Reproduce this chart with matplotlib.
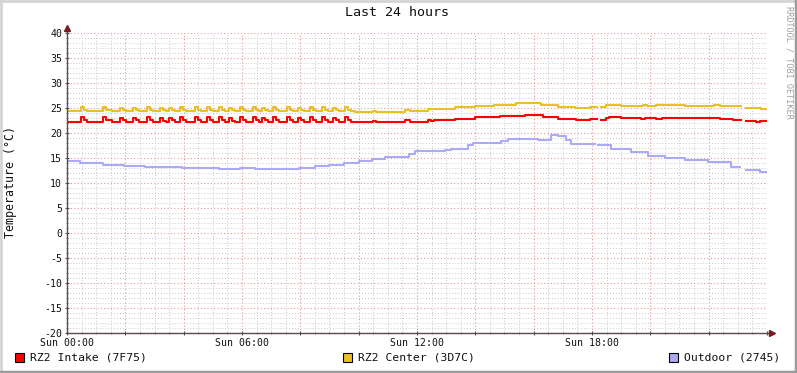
import numpy as np
import matplotlib
matplotlib.use("Agg")
import matplotlib.pyplot as plt
from matplotlib.patches import Rectangle
from matplotlib.ticker import MultipleLocator

# ---- data (hours since Sun 00:00, degrees C) ----
# shared sample times for the two RZ2 sensors; NaN marks missing data
rz2_hours = [
    0.00,
    0.48, 0.58, 0.68,
    1.23, 1.33, 1.54,
    1.82, 1.92, 2.02,
    2.26, 2.36, 2.46,
    2.74, 2.84, 2.94,
    3.19, 3.29, 3.39,
    3.50, 3.60, 3.70,
    3.87, 3.97, 4.07,
    4.39, 4.49, 4.59,
    4.80, 4.90, 5.00,
    5.21, 5.31, 5.41,
    5.55, 5.65, 5.75,
    5.93, 6.03, 6.13,
    6.38, 6.48, 6.58,
    6.69, 6.79, 6.89,
    7.06, 7.16, 7.26,
    7.54, 7.64, 7.74,
    7.92, 8.02, 8.12,
    8.33, 8.43, 8.53,
    8.74, 8.84, 8.94,
    9.12, 9.22, 9.32,
    9.53, 9.63, 9.73,
    9.87, 10.49, 10.60, 11.59, 11.75, 12.37, 12.47, 12.58, 13.30, 14.00,
    14.63, 14.83, 15.40, 15.69, 16.25, 16.32, 16.83, 17.42, 17.45, 17.94,
    18.17, 18.31, 18.48, 18.59, 18.76, 19.00, 19.69, 19.76, 19.83, 19.90,
    20.20, 20.40, 21.20, 21.40, 22.20, 22.27, 22.40, 22.84, 23.11, 23.28,
    23.62, 23.75, 23.80, 23.97,
]
intake = [
    22.3,
    23.2, 22.7, 22.3,
    23.2, 22.7, 22.3,
    23.1, 22.6, 22.3,
    23.0, 22.6, 22.3,
    23.2, 22.7, 22.3,
    23.1, 22.5, 22.3,
    23.1, 22.6, 22.3,
    23.2, 22.7, 22.3,
    23.2, 22.7, 22.3,
    23.2, 22.6, 22.3,
    23.2, 22.6, 22.3,
    23.1, 22.5, 22.3,
    23.2, 22.6, 22.3,
    23.2, 22.7, 22.3,
    23.1, 22.6, 22.3,
    23.2, 22.7, 22.3,
    23.2, 22.6, 22.3,
    23.1, 22.6, 22.3,
    23.2, 22.7, 22.3,
    23.2, 22.6, 22.3,
    23.1, 22.6, 22.3,
    23.2, 22.7, 22.3,
    22.2, 22.4, 22.2, 22.6, 22.3, 22.7, 22.5, 22.6, 22.9, 23.3,
    23.2, 23.4, 23.4, 23.7, 23.7, 23.3, 22.9, 22.9, 22.6, 22.9,
    np.nan, 22.7, 23.1, 23.3, 23.3, 23.0, 22.8, 22.8, 23.0, 23.0,
    22.8, 23.0, 23.1, 23.0, 23.0, 23.1, 22.8, 22.6, np.nan, 22.5,
    22.3, 22.5, 22.5, 22.5,
]
center = [
    24.4,
    25.2, 24.7, 24.4,
    25.2, 24.7, 24.4,
    25.1, 24.7, 24.4,
    25.0, 24.6, 24.4,
    25.2, 24.7, 24.4,
    25.1, 24.6, 24.4,
    25.1, 24.7, 24.4,
    25.2, 24.7, 24.4,
    25.2, 24.7, 24.4,
    25.2, 24.6, 24.4,
    25.2, 24.7, 24.4,
    25.1, 24.6, 24.4,
    25.2, 24.7, 24.4,
    25.2, 24.7, 24.4,
    25.1, 24.6, 24.4,
    25.2, 24.7, 24.4,
    25.2, 24.7, 24.4,
    25.1, 24.6, 24.4,
    25.2, 24.7, 24.4,
    25.2, 24.7, 24.4,
    25.1, 24.6, 24.4,
    25.2, 24.7, 24.4,
    24.3, 24.5, 24.3, 24.7, 24.4, 24.8, 24.8, 24.9, 25.3, 25.5,
    25.7, 25.7, 26.1, 26.1, 25.7, 25.7, 25.3, 25.0, 25.0, 25.3,
    np.nan, 25.3, 25.6, 25.6, 25.7, 25.5, 25.5, 25.7, 25.7, 25.5,
    25.6, 25.6, 25.5, 25.5, 25.7, 25.7, 25.5, 25.5, np.nan, 25.1,
    25.1, 25.1, 24.9, 24.9,
]

outdoor_hours = [
    0.00, 0.45, 1.23, 1.95, 2.67, 3.94, 5.21, 5.93, 6.45, 7.95,
    8.50, 8.98, 9.50, 10.01, 10.45, 10.90, 11.73, 11.93, 12.96, 13.17,
    13.75, 13.92, 14.88, 15.12, 16.15, 16.59, 16.83, 17.11, 17.28, 18.10,
    18.21, 18.65, 19.34, 19.92, 20.50, 21.19, 21.98, 22.77, 23.07, 23.28,
    23.76, 23.97,
]
outdoor = [
    14.5, 14.1, 13.7, 13.5, 13.2, 13.0, 12.9, 13.0, 12.9, 13.1,
    13.4, 13.7, 14.0, 14.4, 14.8, 15.3, 15.8, 16.4, 16.6, 16.9,
    17.6, 18.1, 18.4, 18.8, 18.6, 19.6, 19.4, 18.6, 17.9, np.nan,
    17.6, 16.9, 16.3, 15.4, 15.1, 14.7, 14.3, 13.3, np.nan, 12.6,
    12.3, 12.3,
]

x_tick_hours = [0, 6, 12, 18]
x_tick_labels = ["Sun 00:00", "Sun 06:00", "Sun 12:00", "Sun 18:00"]
series_names = ["RZ2 Intake (7F75)", "RZ2 Center (3D7C)", "Outdoor (2745)"]
series_colors = ["#FF0000", "#EAC024", "#AAAAF6"]

# ---- figure ----
W, H = 797, 373
fig = plt.figure(figsize=(W / 100, H / 100), dpi=100, facecolor="white")
ax = fig.add_axes([67 / W, 40 / H, 700 / W, 300 / H])
ax.set_facecolor("white")

mono = "DejaVu Sans Mono"

ax.set_xlim(0, 24)
ax.set_ylim(-20, 40)
ax.xaxis.set_minor_locator(MultipleLocator(0.5))
ax.yaxis.set_minor_locator(MultipleLocator(1))

# major grid every 2 h, labels only every 6 h
major_hours = list(range(0, 25, 2))
ax.set_xticks(major_hours)
ax.set_xticklabels([x_tick_labels[x_tick_hours.index(h)] if h in x_tick_hours else ""
                    for h in major_hours])
ax.set_yticks(range(-20, 41, 5))
ax.set_yticklabels([str(v) for v in range(-20, 41, 5)])

ax.grid(which="minor", color="#c8c8c8", linestyle=(0, (1, 2)), linewidth=0.7)
ax.grid(which="major", color="#e89898", linestyle=(0, (1, 2)), linewidth=0.8)
ax.set_axisbelow(True)

for lab in ax.get_xticklabels() + ax.get_yticklabels():
    lab.set_fontfamily(mono)
    lab.set_fontsize(7.1)
    lab.set_color("#101010")

ax.tick_params(which="major", length=3, width=0.8, direction="inout", color="#505050")
ax.tick_params(which="minor", length=2, width=0.6, direction="inout", color="#808080")
ax.tick_params(axis="x", pad=2)
ax.tick_params(axis="y", pad=2)

for s in ["top", "right"]:
    ax.spines[s].set_visible(False)
for s in ["left", "bottom"]:
    ax.spines[s].set_color("#5a4a4a")
    ax.spines[s].set_linewidth(1.0)
    ax.spines[s].set_zorder(4)

# axis arrows
ax.plot([1.0, 1.007], [0, 0], color="#5a4a4a", lw=1.0, transform=ax.transAxes, clip_on=False)
ax.plot([1.007], [0], marker=">", color="#7a1a1a", markersize=4, transform=ax.transAxes, clip_on=False)
ax.plot([0, 0], [1.0, 1.017], color="#5a4a4a", lw=1.0, transform=ax.transAxes, clip_on=False)
ax.plot([0], [1.017], marker="^", color="#7a1a1a", markersize=4, transform=ax.transAxes, clip_on=False)

ax.plot(rz2_hours, intake, drawstyle="steps-post", color=series_colors[0], lw=1.5, zorder=3)
ax.plot(rz2_hours, center, drawstyle="steps-post", color=series_colors[1], lw=1.5, zorder=3)
ax.plot(outdoor_hours, outdoor, drawstyle="steps-post", color=series_colors[2], lw=1.5, zorder=3)

fig.text(397 / W, 1 - 13 / H, "Last 24 hours", ha="center", va="center",
         fontfamily=mono, fontsize=9.6, color="#101010")
fig.text(11 / W, 1 - 182 / H, "Temperature (°C)", ha="center", va="center",
         rotation=90, fontfamily=mono, fontsize=8.4, color="#101010")
fig.text(789 / W, 1 - 6 / H, "RRDTOOL / TOBI OETIKER", ha="center", va="top",
         rotation=270, fontfamily=mono, fontsize=6.1, color="#a0a0a0")

# legend
legend_x = [15, 343, 669]
for name, col, lx in zip(series_names, series_colors, legend_x):
    fig.add_artist(Rectangle((lx / W, (373 - 362) / H), 9 / W, 9 / H,
                             transform=fig.transFigure, facecolor=col,
                             edgecolor="black", linewidth=0.8))
    fig.text((lx + 15) / W, 1 - 358 / H, name, ha="left", va="center",
             fontfamily=mono, fontsize=8.2, color="#101010")

# outer frame like rrdtool
fig.add_artist(plt.Line2D([0, 1], [1 - 1 / H, 1 - 1 / H], transform=fig.transFigure, color="#d4d4d4", lw=2))
fig.add_artist(plt.Line2D([1 / W, 1 / W], [0, 1], transform=fig.transFigure, color="#d4d4d4", lw=2))
fig.add_artist(plt.Line2D([0, 1], [1.5 / H, 1.5 / H], transform=fig.transFigure, color="#9c9c9c", lw=2.5))
fig.add_artist(plt.Line2D([1 - 1.5 / W, 1 - 1.5 / W], [0, 1], transform=fig.transFigure, color="#9c9c9c", lw=2.5))

fig.savefig("out.png", dpi=100, facecolor="white")
